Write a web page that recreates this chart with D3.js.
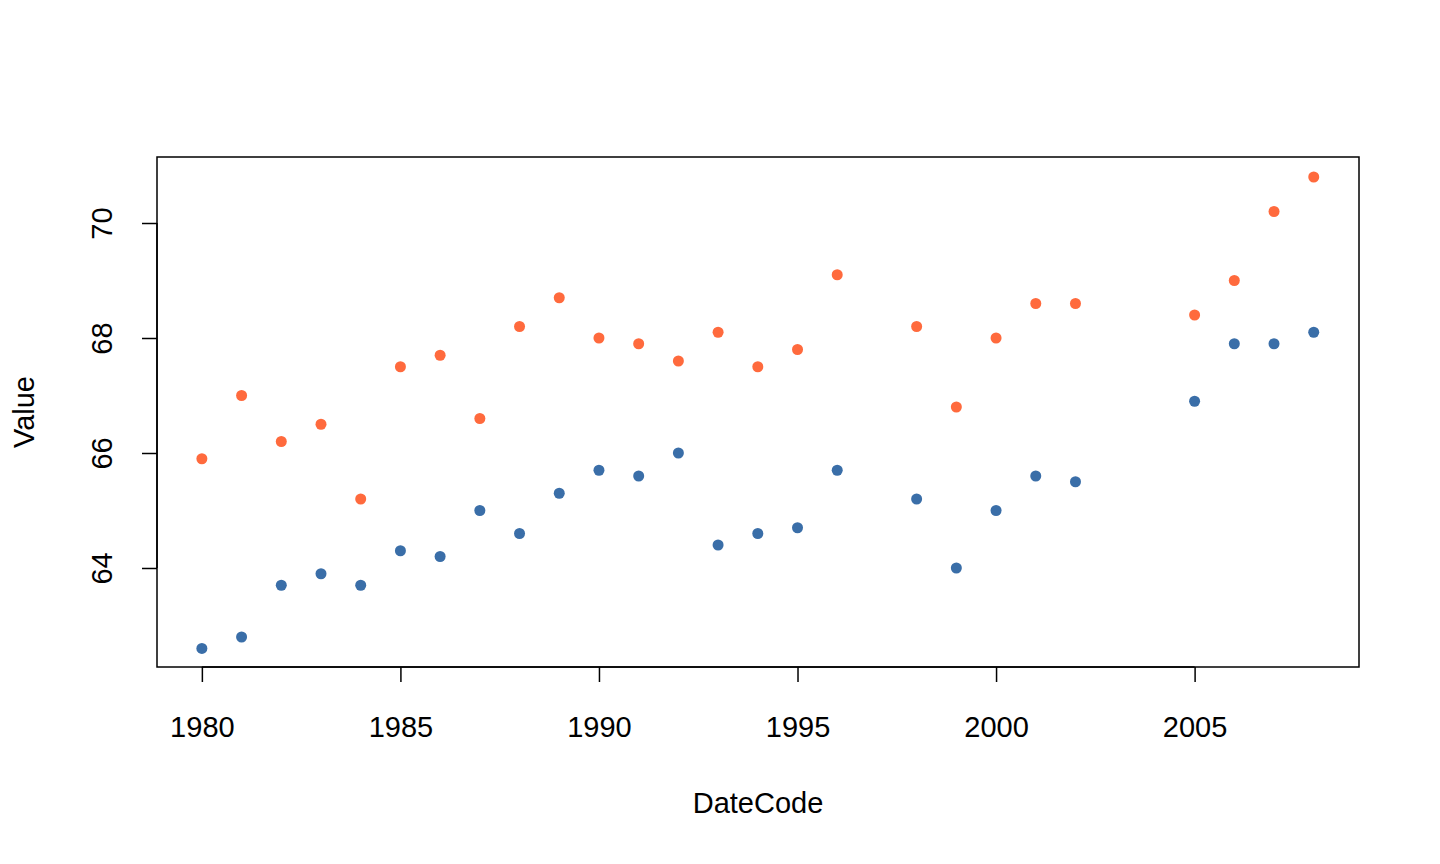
<!DOCTYPE html>
<html>
<head>
<meta charset="utf-8">
<script src="https://cdn.jsdelivr.net/npm/d3@7"></script>
<style>body{margin:0;background:#fff}text{font-family:"Liberation Sans",Arial,sans-serif;fill:#000}</style>
</head>
<body>
<svg width="1440" height="864"></svg>
<script>
var years = [1980,1981,1982,1983,1984,1985,1986,1987,1988,1989,1990,1991,1992,1993,1994,1995,1996,1998,1999,2000,2001,2002,2005,2006,2007,2008];
var upper = [65.9,67.0,66.2,66.5,65.2,67.5,67.7,66.6,68.2,68.7,68.0,67.9,67.6,68.1,67.5,67.8,69.1,68.2,66.8,68.0,68.6,68.6,68.4,69.0,70.2,70.8];
var lower = [62.6,62.8,63.7,63.9,63.7,64.3,64.2,65.0,64.6,65.3,65.7,65.6,66.0,64.4,64.6,64.7,65.7,65.2,64.0,65.0,65.6,65.5,66.9,67.9,67.9,68.1];
var xTicks = [1980,1985,1990,1995,2000,2005];
var yTicks = [64,66,68,70];

var svg = d3.select('svg'),
    L = 157, R = 1359, T = 157, B = 667;
var x = d3.scaleLinear().domain([1978.87, 2009.14]).range([L, R]);
var y = d3.scaleLinear().domain([62.278, 71.148]).range([B, T]);

svg.append('rect').attr('x', L).attr('y', T).attr('width', R - L).attr('height', B - T)
    .attr('fill', 'none').attr('stroke', '#000').attr('stroke-width', 1.5);

var xa = svg.append('g').attr('transform', 'translate(0,' + B + ')')
    .call(d3.axisBottom(x).tickValues(xTicks).tickFormat(d3.format('d')).tickSize(15).tickPadding(33));
xa.select('.domain').attr('d', 'M' + x(1980) + ',0H' + x(2005)).attr('stroke-width', 1.5);
xa.selectAll('line').attr('stroke-width', 1.5);
xa.selectAll('text').style('font-size', '29px').attr('dy', null).attr('y', 70);

var ya = svg.append('g').attr('transform', 'translate(' + L + ',0)')
    .call(d3.axisLeft(y).tickValues(yTicks).tickSize(15));
ya.select('.domain').attr('d', 'M0,' + y(64) + 'V' + y(70)).attr('stroke-width', 1.5);
ya.selectAll('line').attr('stroke-width', 1.5);
ya.selectAll('text').style('font-size', '29px').attr('text-anchor', 'middle')
    .attr('transform', 'rotate(-90)').attr('x', 0).attr('y', -45).attr('dy', null);

svg.append('text').attr('x', (L + R) / 2).attr('y', 813).attr('text-anchor', 'middle')
    .style('font-size', '29px').text('DateCode');
svg.append('text').attr('transform', 'translate(34,' + ((T + B) / 2) + ') rotate(-90)')
    .attr('text-anchor', 'middle').style('font-size', '29px').text('Value');

function dots(vals, col) {
    svg.append('g').selectAll('circle').data(years).enter().append('circle')
        .attr('cx', function (d) { return x(d); })
        .attr('cy', function (d, i) { return y(vals[i]); })
        .attr('r', 5.5).attr('fill', col);
}
dots(upper, '#FF6A3D');
dots(lower, '#3A6EA8');
</script>
</body>
</html>
